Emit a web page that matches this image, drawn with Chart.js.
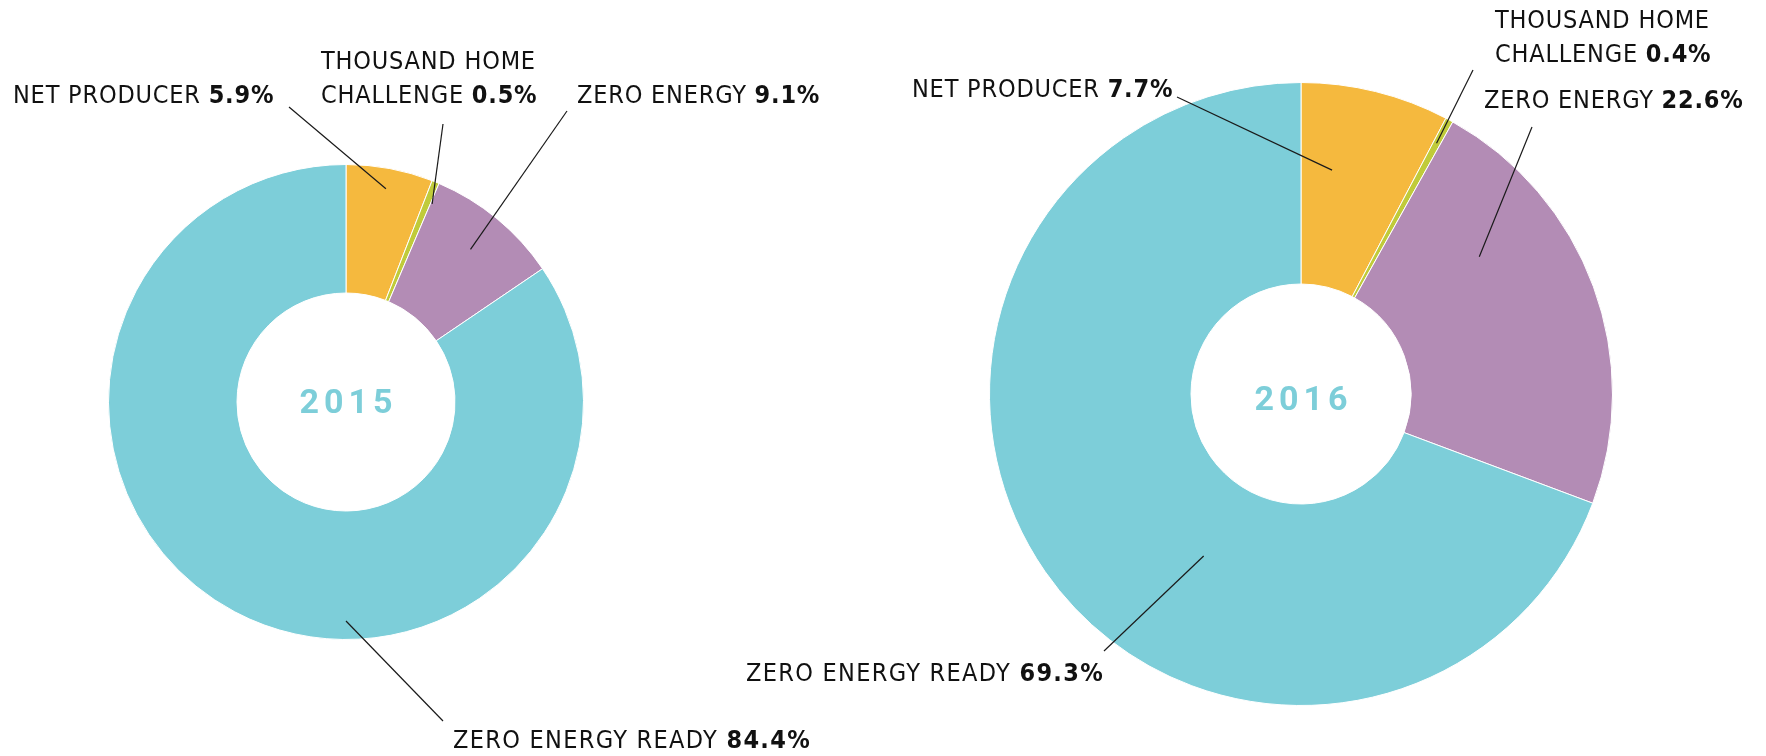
<!DOCTYPE html>
<html>
<head>
<meta charset="utf-8">
<script src="https://cdn.jsdelivr.net/npm/chart.js@4.4.1/dist/chart.umd.min.js"></script>
<style>
    html, body { margin: 0; padding: 0; background: #fff; }
    #wrap { position: relative; width: 1766px; height: 756px; }
    #wrap canvas { position: absolute; left: 0; top: 0; }
</style>
</head>
<body>
<div id="wrap">
    <canvas id="chart2015" width="1766" height="756"></canvas>
    <canvas id="chart2016" width="1766" height="756"></canvas>
</div>
<script>
// Data
const categories = ['NET PRODUCER', 'THOUSAND HOME\nCHALLENGE', 'ZERO ENERGY', 'ZERO ENERGY READY'];
const years = ['2015', '2016'];
const values2015 = [5.9, 0.5, 9.1, 84.4];
const values2016 = [7.7, 0.4, 22.6, 69.3];
const colors = ['#F5B93E', '#C0CB3A', '#B38CB5', '#7DCED9'];

const LABEL_FONT = "'Liberation Sans Narrow', 'DejaVu Sans Condensed', 'Roboto Condensed', Roboto, sans-serif";
const YEAR_FONT = "Roboto, 'DejaVu Sans', sans-serif";

// label placement per slice: text left x, first line y, letter spacing,
// leader start point, leader end (angle from top in deg, radius px)
const labels2015 = [
    { x: 13,  y: 96,  spacing: 0.8, from: [289, 107], to: [10.6, 217] },
    { x: 321, y: 62,  spacing: 0.8, from: [443, 124], to: [23.5, 216] },
    { x: 577, y: 96,  spacing: 0.8, from: [567, 111], to: [39.2, 197] },
    { x: 453, y: 741, spacing: 1.3, from: [443, 721], to: [180, 219] }
];
const labels2016 = [
    { x: 912,  y: 90,  spacing: 0.8, from: [1177, 97],  to: [7.9, 226] },
    { x: 1495, y: 21,  spacing: 0.8, from: [1473, 70],  to: [28.4, 285] },
    { x: 1484, y: 101, spacing: 0.8, from: [1532, 127], to: [52.4, 225] },
    { x: 746,  y: 674, spacing: 1.3, from: [1104, 651], to: [211, 189] }
];

const calloutPlugin = {
    id: 'callouts',
    afterDraw(chart, args, opts) {
        const ctx = chart.ctx;
        const arc = chart.getDatasetMeta(0).data[0];
        const cx = arc.x, cy = arc.y;
        const values = chart.data.datasets[0].data;

        ctx.save();
        // leader lines
        ctx.strokeStyle = '#1a1a1a';
        ctx.lineWidth = 1.2;
        opts.labels.forEach(l => {
            const a = l.to[0] * Math.PI / 180;
            ctx.beginPath();
            ctx.moveTo(l.from[0], l.from[1]);
            ctx.lineTo(cx + l.to[1] * Math.sin(a), cy - l.to[1] * Math.cos(a));
            ctx.stroke();
        });

        // label text
        ctx.textBaseline = 'middle';
        ctx.textAlign = 'left';
        opts.labels.forEach((l, i) => {
            const lines = chart.data.labels[i].split('\n');
            ctx.letterSpacing = l.spacing + 'px';
            lines.forEach((txt, j) => {
                const y = l.y + j * 34;
                ctx.fillStyle = '#111';
                ctx.font = '300 25px ' + LABEL_FONT;
                let x = l.x;
                const last = j === lines.length - 1;
                const main = last ? txt + ' ' : txt;
                ctx.fillText(main, x, y);
                if (last) {
                    x += ctx.measureText(main).width;
                    ctx.font = 'bold 25px ' + LABEL_FONT;
                    ctx.fillText(values[i].toFixed(1) + '%', x, y);
                }
            });
        });

        // year in the hole
        ctx.letterSpacing = '5px';
        ctx.textAlign = 'center';
        ctx.fillStyle = '#7DCED9';
        ctx.font = 'bold 34px ' + YEAR_FONT;
        ctx.fillText(opts.year, cx + 2.5, cy + opts.yearShift);
        ctx.restore();
    }
};

function makeDonut(id, values, year, labels, padding, cutout, yearShift) {
    return new Chart(document.getElementById(id), {
        type: 'doughnut',
        data: {
            labels: categories,
            datasets: [{
                data: values,
                backgroundColor: colors,
                borderColor: '#ffffff',
                borderWidth: 1
            }]
        },
        options: {
            responsive: false,
            animation: false,
            cutout: cutout,
            layout: { padding: padding },
            plugins: {
                legend: { display: false },
                tooltip: { enabled: false },
                callouts: { labels: labels, year: year, yearShift: yearShift }
            }
        },
        plugins: [calloutPlugin]
    });
}

makeDonut('chart2015', values2015, years[0], labels2015,
    { left: 108, top: 164, right: 1182, bottom: 116 }, 109, 2);
makeDonut('chart2016', values2016, years[1], labels2016,
    { left: 989, top: 82, right: 153, bottom: 50 }, 110, 7);
</script>
</body>
</html>
